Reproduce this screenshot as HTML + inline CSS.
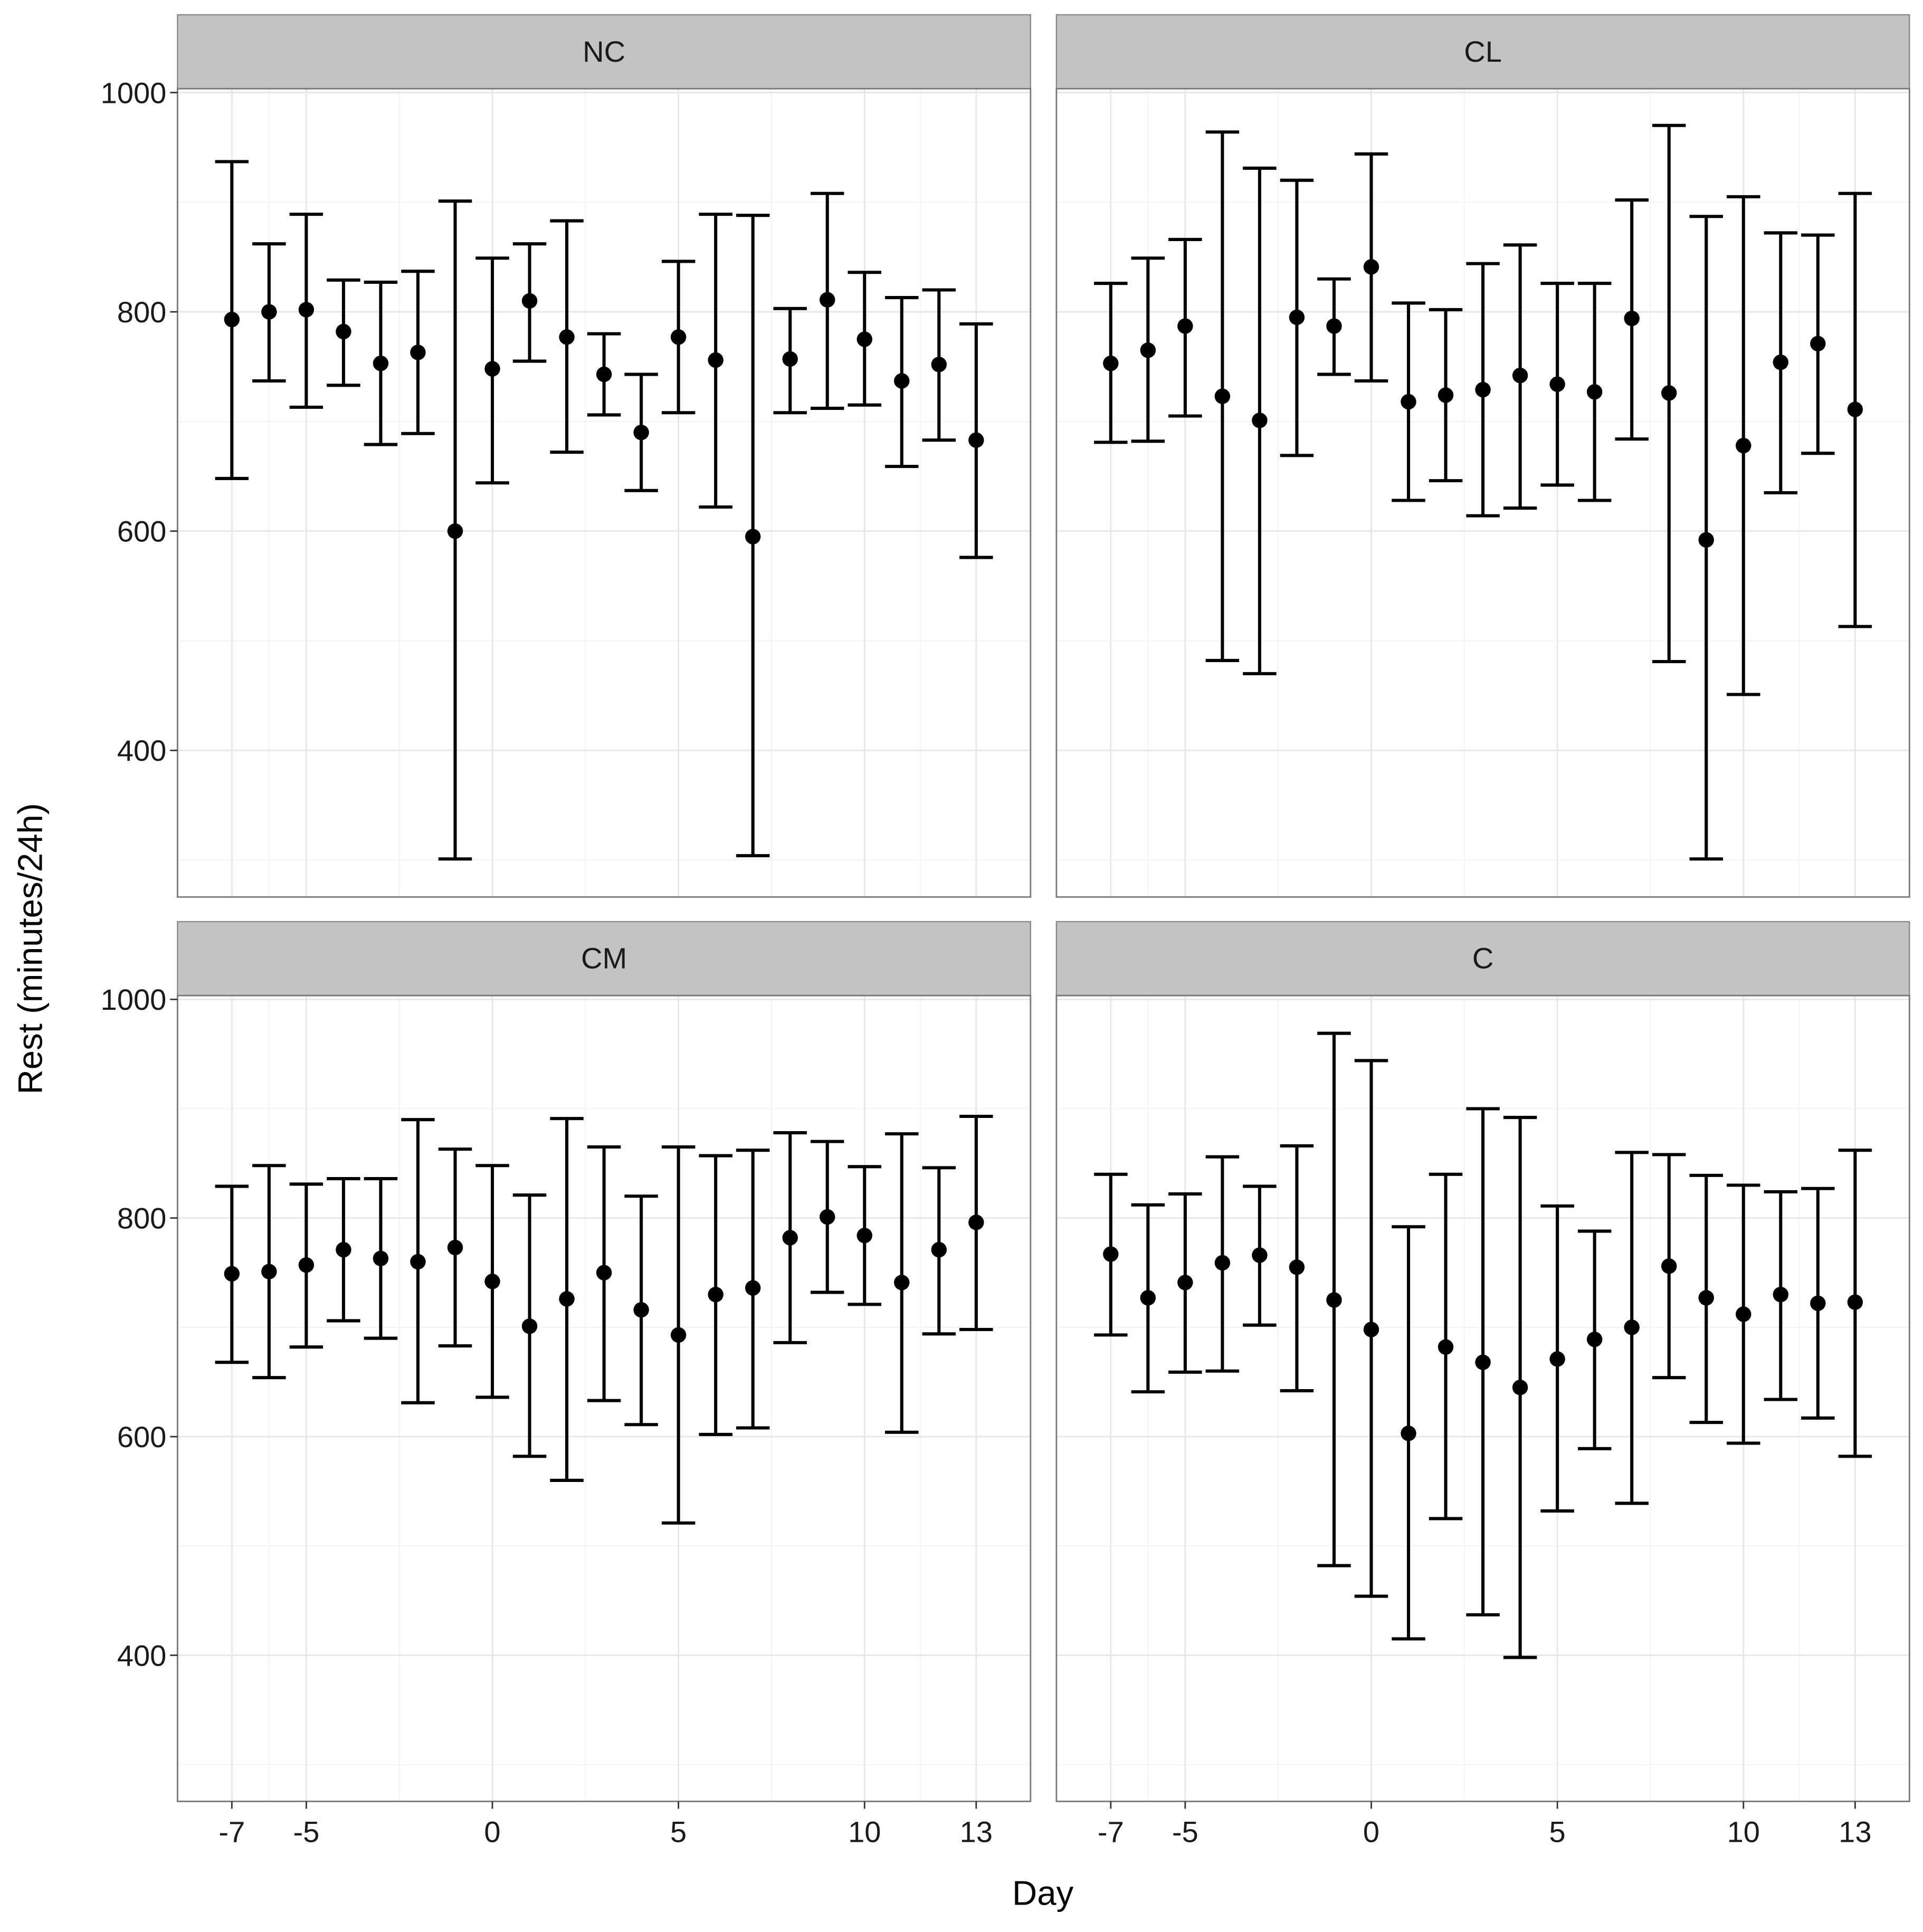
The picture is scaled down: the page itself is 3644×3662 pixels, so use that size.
<!DOCTYPE html>
<html><head><meta charset="utf-8"><style>
html,body{margin:0;padding:0;background:#fff}
svg{display:block}
text{font-family:"Liberation Sans",Arial,sans-serif}
</style></head><body>
<svg id="chart" width="3644" height="3662" viewBox="0 0 1560 1568" preserveAspectRatio="none" xmlns="http://www.w3.org/2000/svg">
<rect x="0" y="0" width="1560" height="1568" fill="#fff"/>
<text x="0" y="0" transform="translate(34,770) rotate(-90)" text-anchor="middle" font-size="28">Rest (minutes/24h)</text>
<text x="846" y="1546" text-anchor="middle" font-size="28">Day</text>
</svg>
<script>
const days = [-7,-6,-5,-4,-3,-2,-1,0,1,2,3,4,5,6,7,8,9,10,11,12,13];
const panelNames = ["NC","CL","CM","C"];
const ncMean = [793,800,802,782,753,763,600,748,810,777,743,690,777,756,595,757,811,775,737,752,683];
const ncUpper = [937,862,889,829,827,837,901,849,862,883,780,743,846,889,888,803,908,836,813,820,789];
const ncLower = [648,737,713,733,679,689,301,644,755,672,706,637,708,622,304,708,712,715,659,683,576];
const clMean = [753,765,787,723,701,795,787,841,718,724,729,742,734,727,794,726,592,678,754,771,711];
const clUpper = [826,849,866,964,931,920,830,944,808,802,844,861,826,826,902,970,887,905,872,870,908];
const clLower = [681,682,705,482,470,669,743,737,628,646,614,621,642,628,684,481,301,451,635,671,513];
const cmMean = [749,751,757,771,763,760,773,742,701,726,750,716,693,730,736,782,801,784,741,771,796];
const cmUpper = [829,848,831,836,836,890,863,848,821,891,865,820,865,857,862,878,870,847,877,846,893];
const cmLower = [668,654,682,706,690,631,683,636,582,560,633,611,521,602,608,686,732,721,604,694,698];
const cMean = [767,727,741,759,766,755,725,698,603,682,668,645,671,689,700,756,727,712,730,722,723];
const cUpper = [840,812,822,856,829,866,969,944,792,840,900,892,811,788,860,858,839,830,824,827,862];
const cLower = [693,641,659,660,702,642,482,454,415,525,437,398,532,589,539,654,613,594,634,617,582];
const xTicks = [-7,-5,0,5,10,13];
const xMinor = [-6,-2.5,2.5,7.5,11.5];
const yTicks = [400,600,800,1000];
const yMinor = [300,500,700,900];

const means=[ncMean,clMean,cmMean,cMean], ups=[ncUpper,clUpper,cmUpper,cUpper], los=[ncLower,clLower,cmLower,cLower];
const NS="http://www.w3.org/2000/svg";
const svg=document.getElementById('chart');
function mk(tag,attrs,parent){const e=document.createElementNS(NS,tag);for(const k in attrs)e.setAttribute(k,attrs[k]);(parent||svg).appendChild(e);return e;}
const panels=[{x0:144,x1:836,s0:12,y0:72,y1:728},{x0:857,x1:1549,s0:12,y0:72,y1:728},{x0:144,x1:836,s0:748,y0:808,y1:1462},{x0:857,x1:1549,s0:748,y0:808,y1:1462}];
const xMin=-8.46,xMax=14.46,yMin=266.3,yMax=1003.5;
panels.forEach((p,i)=>{
  const g=mk('g',{});
  
  
  const sx=v=>p.x0+(v-xMin)/(xMax-xMin)*(p.x1-p.x0);
  const sy=v=>p.y1-(v-yMin)/(yMax-yMin)*(p.y1-p.y0);
  xMinor.forEach(v=>{const l=mk('line',{x1:sx(v),x2:sx(v),y1:p.y0,y2:p.y1,stroke:'#f3f3f3','stroke-width':0.8},g);});
  yMinor.forEach(v=>{const l=mk('line',{x1:p.x0,x2:p.x1,y1:sy(v),y2:sy(v),stroke:'#f3f3f3','stroke-width':0.8},g);});
  xTicks.forEach(v=>{const l=mk('line',{x1:sx(v),x2:sx(v),y1:p.y0,y2:p.y1,stroke:'#e6e6e6','stroke-width':1.2},g);});
  yTicks.forEach(v=>{const l=mk('line',{x1:p.x0,x2:p.x1,y1:sy(v),y2:sy(v),stroke:'#e6e6e6','stroke-width':1.2},g);});
  const st=mk('rect',{x:p.x0,y:p.s0,width:p.x1-p.x0,height:p.y0-p.s0,fill:'#c3c3c3',stroke:'#888','stroke-width':1},g);
  
  
  const stt=mk('text',{x:(p.x0+p.x1)/2,y:(p.s0+p.y0)/2+8,'text-anchor':'middle','font-size':24,fill:'#1a1a1a'},g);
  stt.textContent=panelNames[i];
  
  
  const half=0.45;
  days.forEach((d,j)=>{
    const eb=mk('path',{d:`M${sx(d-half)},${sy(ups[i][j])}H${sx(d+half)}M${sx(d)},${sy(ups[i][j])}V${sy(los[i][j])}M${sx(d-half)},${sy(los[i][j])}H${sx(d+half)}`,stroke:'#000','stroke-width':2.6,fill:'none'},g);
    
    
    const pt=mk('circle',{cx:sx(d),cy:sy(means[i][j]),r:6.3,fill:'#000'},g);
    
    
  });
  const bd=mk('rect',{x:p.x0,y:p.y0,width:p.x1-p.x0,height:p.y1-p.y0,fill:'none',stroke:'#777','stroke-width':1.2},g);
  
  
  if(i%2===0){yTicks.forEach(v=>{
    const tk=mk('line',{x1:p.x0-6,x2:p.x0,y1:sy(v),y2:sy(v),stroke:'#333','stroke-width':1.2},g);
    
    const t=mk('text',{x:p.x0-9,y:sy(v)+8.5,'text-anchor':'end','font-size':24,fill:'#1a1a1a'},g);
    t.textContent=v;
  });}
  if(i>=2){xTicks.forEach(v=>{
    const tk=mk('line',{x1:sx(v),x2:sx(v),y1:p.y1,y2:p.y1+6,stroke:'#333','stroke-width':1.2},g);
    
    const t=mk('text',{x:sx(v),y:p.y1+33,'text-anchor':'middle','font-size':24,fill:'#1a1a1a'},g);
    t.textContent=v;
  });}
});
</script>
</body></html>
